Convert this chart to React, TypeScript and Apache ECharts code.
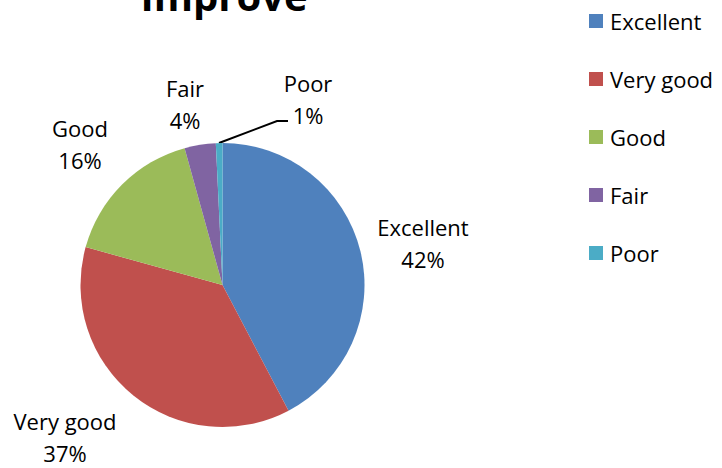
import React, { useEffect, useRef } from "react";
import * as echarts from "echarts";

const categories = ["Excellent", "Very good", "Good", "Fair", "Poor"];
const values = [42.3, 37.0, 16.4, 3.55, 0.75];
const colors = ["#4F81BD", "#C0504D", "#9BBB59", "#8064A2", "#4BACC6"];
const titleText = "Improve";

const FONT = "'Open Sans', 'Noto Sans', sans-serif";

// label anchor positions (label layout only)
const labelPos: Record<string, [number, number]> = {
  Excellent: [423, 243],
  "Very good": [65, 437],
  Good: [80, 144],
  Fair: [185, 104],
  Poor: [308, 99],
};

export default function App() {
  const ref = useRef<HTMLDivElement>(null);
  useEffect(() => {
    if (!ref.current) return;
    const chart = echarts.init(ref.current, undefined, { renderer: "svg" });
    chart.setOption({
      animation: false,
      backgroundColor: "#ffffff",
      color: colors,
      graphic: [
        {
          type: "text",
          x: 224,
          y: -5,
          style: {
            text: titleText,
            font: `bold 40px ${FONT}`,
            fill: "#000000",
            align: "center",
            verticalAlign: "middle",
          },
        },
      ],
      legend: {
        orient: "vertical",
        left: 589,
        top: 10,
        padding: 0,
        itemWidth: 14,
        itemHeight: 14,
        itemGap: 36,
        icon: "rect",
        data: categories,
        textStyle: {
          fontFamily: FONT,
          fontSize: 22,
          lineHeight: 22,
          color: "#000000",
          padding: [0, 0, 0, 2],
        },
      },
      series: [
        {
          type: "pie",
          center: [222.5, 285],
          radius: 142,
          startAngle: 90,
          clockwise: true,
          percentPrecision: 0,
          avoidLabelOverlap: false,
          data: categories.map((c, i) => ({
            name: c,
            value: values[i],
            labelLine: { show: c === "Poor" },
          })),
          itemStyle: { borderWidth: 0 },
          label: {
            show: true,
            position: "outside",
            formatter: "{b}\n{d}%",
            fontFamily: FONT,
            fontSize: 22,
            lineHeight: 32,
            color: "#000000",
            align: "center",
          },
          labelLine: {
            show: true,
            lineStyle: { color: "#000000", width: 2 },
          },
          labelLayout: (params: any) => {
            const name = categories[params.dataIndex];
            const p = labelPos[name];
            const out: any = {
              x: p[0],
              y: p[1],
              align: "center",
              verticalAlign: "middle",
            };
            if (name === "Poor") {
              out.labelLinePoints = [
                [219, 143],
                [277, 121],
                [288, 121],
              ];
            }
            return out;
          },
        },
      ],
    });
    return () => chart.dispose();
  }, []);
  return (
    <div
      ref={ref}
      style={{ position: "fixed", left: 0, top: 0, width: 722, height: 468 }}
    />
  );
}
